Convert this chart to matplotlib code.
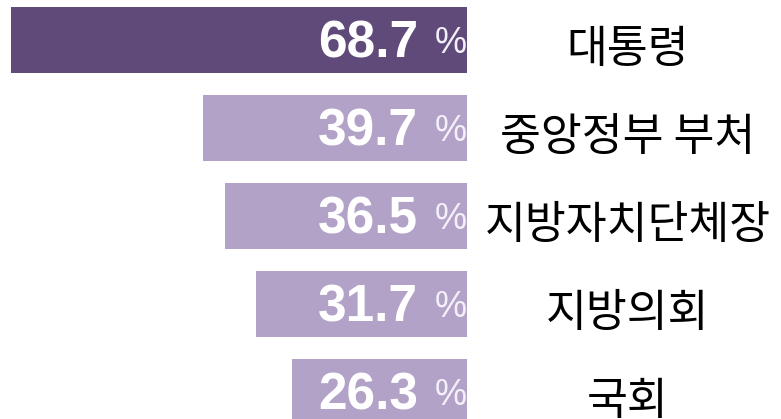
import matplotlib.pyplot as plt

# survey results: share per institution
labels = ["대통령", "중앙정부 부처", "지방자치단체장", "지방의회", "국회"]
values = [68.7, 39.7, 36.5, 31.7, 26.3]

dark = "#5f4a7a"
light = "#b3a2c8"
colors = [dark] + [light] * (len(values) - 1)

fig = plt.figure(figsize=(7.81, 4.19), dpi=100)
ax = fig.add_axes([0, 0, 1, 1])

# bars grow leftwards from x = 0
ypos = list(range(len(values)))
ax.barh(ypos, [-v for v in values], height=0.75, color=colors)

for y, v, lab in zip(ypos, values, labels):
    ax.text(-7.4, y + 0.05, f"{v:.1f}", ha="right", va="center", color="white",
            fontsize=37, fontweight="bold", family="Liberation Sans")
    ax.text(-4.9, y + 0.04, "%", ha="left", va="center", color="#f4f0f8",
            fontsize=26, family="Liberation Sans")
    ax.text(24.25, y + 0.105, lab, ha="center", va="center", color="black",
            fontsize=32, family=["Noto Sans CJK KR", "DejaVu Sans"])

ax.set_xlim(-70.33, 47.3)
ax.set_ylim(4.307, -0.4545)
ax.axis("off")

fig.savefig("out.png", dpi=100)
